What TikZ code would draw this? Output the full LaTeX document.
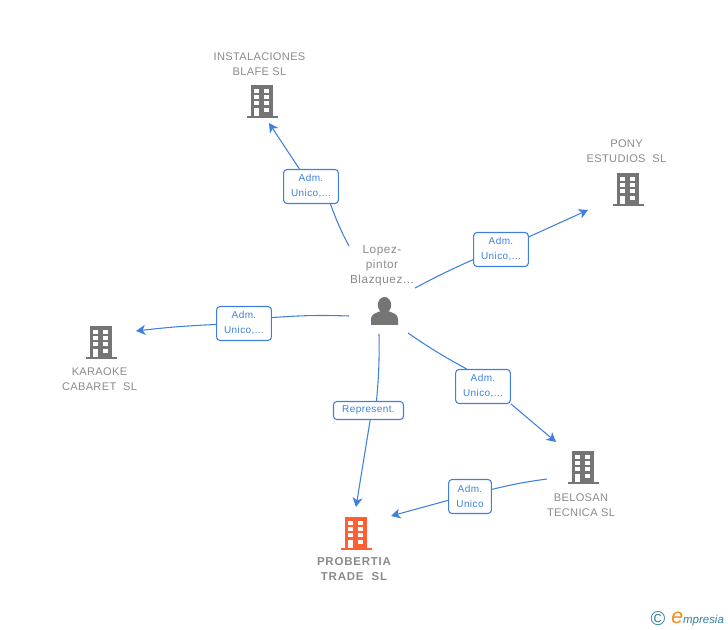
\documentclass[tikz,border=0pt]{standalone}
\usepackage{fontspec}
\setmainfont{Liberation Sans}
\newfontfamily\firmfont[LetterSpace=3]{Liberation Sans}
\newfontfamily\rolefont[LetterSpace=4]{Liberation Sans}
\newfontfamily\wideningfont[LetterSpace=7]{Liberation Sans}
\newfontfamily\personfont[LetterSpace=5]{Liberation Sans}
\usetikzlibrary{arrows.meta,positioning,shapes.geometric}
\definecolor{linkblue}{HTML}{3F80DE}
\definecolor{namegray}{HTML}{8A8A8A}
\definecolor{icongray}{HTML}{757575}
\definecolor{mainorange}{HTML}{FF5F33}
\definecolor{logoteal}{HTML}{2F7F9B}
\definecolor{logoorange}{HTML}{F08A1D}
\tikzset{
  firm/.style={text=namegray, align=center, inner sep=0pt, font=\firmfont\fontsize{8.3}{11.25}\selectfont},
  role/.style={draw=linkblue, line width=0.8pt, rounded corners=2.5pt, fill=white, text=linkblue, align=center,
    inner sep=0pt, minimum height=25.5pt, font=\rolefont\fontsize{7.5}{11.25}\selectfont},
  link/.style={color=linkblue, draw, line width=0.8pt},
  arrowlink/.style={link, -{Stealth[length=7pt,width=7.5pt,inset=2pt]}},
  pics/bldg/.style={code={
    \fill[#1] (-11,-16) rectangle (11,15);
    \fill[#1] (-15.5,15) rectangle (15.5,17);
    \foreach \ypos in {-12,-6,0} {
      \fill[white] (-8,\ypos) rectangle (-3,\ypos+4);
      \fill[white] (2,\ypos) rectangle (7,\ypos+4);
    }
    \fill[white] (-8,7) rectangle (-3,15);
    \fill[white] (2,7) rectangle (7,11);
  }},
}
\begin{document}
\begin{tikzpicture}[x=0.75pt,y=-0.75pt]
  \useasboundingbox (0,0) rectangle (728,630);
  % company icons
  \pic at (262,101) {bldg=icongray};
  \pic at (628,189) {bldg=icongray};
  \pic at (101,342) {bldg=icongray};
  \pic at (583,467) {bldg=icongray};
  \pic at (356,533) {bldg=mainorange};
  % person icon
  \node[fill=icongray, ellipse, inner sep=0pt, minimum width=10pt, minimum height=12pt] (person) at (384.5,305) {};
  \fill[icongray] (371,325) -- (371,319) .. controls (371,314) and (376,313) .. (381,311)
    -- (388,311) .. controls (393,313) and (398,314) .. (398,319) -- (398,325) -- cycle;
  % names
  \node[firm] (instalaciones) at (259.5,64.5) {INSTALACIONES\\BLAFE SL};
  \node[firm] (pony) at (626.5,151.5) {PONY\\ESTUDIOS\ \ SL};
  \node[firm] (karaoke) at (99.5,379.5) {KARAOKE\\CABARET\ \ SL};
  \node[firm] (belosan) at (581,505.5) {BELOSAN\\TECNICA SL};
  \node[firm, font=\wideningfont\fontsize{8.6}{11.25}\selectfont\bfseries] (probertia) at (354,569.5) {PROBERTIA\\TRADE\ \ SL};
  \node[firm, font=\personfont\fontsize{8.8}{11.25}\selectfont] (lopez) at (382,265.5) {Lopez-\\pintor\\Blazquez...};
  % free ends of the links
  \coordinate (a0) at (349,246);
  \coordinate (a1) at (269,123);
  \coordinate (b0) at (415,288);
  \coordinate (b1) at (588,210);
  \coordinate (c0) at (349,316);
  \coordinate (c1) at (136,331);
  \coordinate (d0) at (379,334);
  \coordinate (d1) at (356,507);
  \coordinate (e0) at (408,333);
  \coordinate (e1) at (556,442);
  \coordinate (f0) at (547,479);
  \coordinate (f1) at (391,516);
  % role boxes
  \node[role, minimum width=41pt] (adma) at (311,186.5) {Adm.\\Unico,...};
  \node[role, minimum width=41pt] (admb) at (501,249.5) {Adm.\\Unico,...};
  \node[role, minimum width=41pt] (admc) at (244,323.5) {Adm.\\Unico,...};
  \node[role, minimum width=52.5pt, minimum height=13.5pt] (rep) at (368.5,410.5) {Represent.};
  \node[role, minimum width=41pt] (admd) at (483,386.5) {Adm.\\Unico,...};
  \node[role, minimum width=32pt] (adme) at (470,496.5) {Adm.\\Unico};
  % links
  \path
    (a0) edge[link, bend left=4] (adma.-42)
    (b0) edge[link, bend left=2] (admb.200)
    (c0) edge[link, bend right=3] (admc.12)
    (d0) edge[link, bend left=3] (rep.50)
    (e0) edge[link, bend right=3] (admd.133)
    (f0) edge[link, bend right=3] (adme.18);
  \path
    (adma) edge[arrowlink] (a1)
    (admb) edge[arrowlink] (b1)
    (admc) edge[arrowlink, bend right=2] (c1)
    (rep.-80) edge[arrowlink] (d1)
    (admd.-32) edge[arrowlink] (e1)
    (adme.190) edge[arrowlink] (f1);
  % logo
  \node[text=logoteal, inner sep=0pt, font=\fontsize{15}{15}\selectfont] (copyr) at (658,619) {©};
  \node[inner sep=0pt, anchor=west, font=\fontsize{8.6}{12}\selectfont\itshape, text=logoteal] (logo) at (671,619)
    {\textcolor{logoorange}{\fontsize{16}{12}\selectfont e}mpresia};
\end{tikzpicture}
\end{document}
